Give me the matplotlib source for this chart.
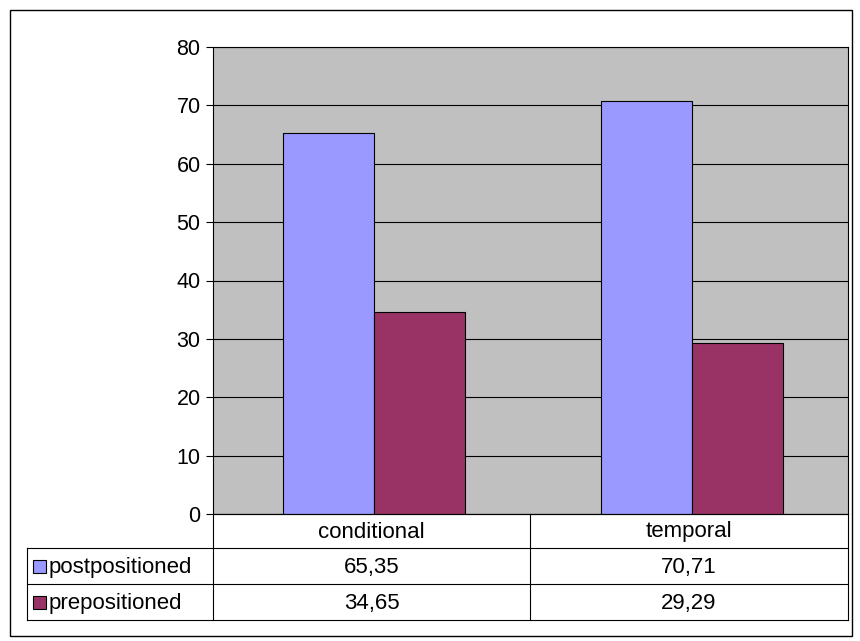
import matplotlib.pyplot as plt
from matplotlib.patches import Rectangle

plt.rcParams['font.family'] = ['Liberation Sans', 'DejaVu Sans']

categories = ["conditional", "temporal"]
series_names = ["postpositioned", "prepositioned"]
post_vals = [65.35, 70.71]
pre_vals = [34.65, 29.29]
colors = ["#9999FF", "#993366"]

W, H = 860, 641
fig = plt.figure(figsize=(W / 100, H / 100), dpi=100)

def fx(px):
    return px / W

def fy(py):
    return 1 - py / H

# outer border
fig.patches.append(Rectangle((fx(10), fy(636)), fx(842), 626 / H, transform=fig.transFigure,
                             fill=False, edgecolor="black", lw=1))

ax = fig.add_axes([fx(213), fy(514), fx(848 - 213), (514 - 47) / H])
ax.set_facecolor("#C0C0C0")
ax.set_ylim(0, 80)
ax.set_xlim(-0.5, len(categories) - 0.5)
ax.set_yticks(range(0, 81, 10))
ax.yaxis.grid(True, color="black", lw=0.8)
ax.set_axisbelow(True)
ax.set_xticks([])
ax.tick_params(axis="y", labelsize=15.5, length=5, direction="out", pad=4)
for s in ax.spines.values():
    s.set_color("black")
    s.set_linewidth(0.8)

w = 0.287
xs = range(len(categories))
ax.bar([x - w / 2 + 0.008 for x in xs], post_vals, w, color=colors[0], edgecolor="black", lw=0.8, zorder=3)
ax.bar([x + w / 2 + 0.008 for x in xs], pre_vals, w, color=colors[1], edgecolor="black", lw=0.8, zorder=3)

# data table
rows_y = [514, 548, 584, 620]
cols_x = [27, 213, 530, 848]
L = lambda x0, y0, x1, y1: fig.add_artist(plt.Line2D([fx(x0), fx(x1)], [fy(y0), fy(y1)],
                                                      transform=fig.transFigure, color="black", lw=0.8))
L(213, 514, 848, 514)
for y in rows_y[1:]:
    L(27, y, 848, y)
L(27, 548, 27, 620)
L(213, 514, 213, 620)
L(530, 514, 530, 620)
L(848, 514, 848, 620)

fs = 16
for i, c in enumerate(categories):
    fig.text(fx((cols_x[i + 1] + cols_x[i + 2]) / 2), fy(532), c, ha="center", va="center", fontsize=fs)

for r, (name, vals) in enumerate(zip(series_names, [post_vals, pre_vals])):
    yc = (rows_y[r + 1] + rows_y[r + 2]) / 2
    fig.patches.append(Rectangle((fx(33), fy(yc + 7)), 13 / W, 13 / H, transform=fig.transFigure,
                                 facecolor=colors[r], edgecolor="black", lw=0.8))
    fig.text(fx(49), fy(yc + 1), name, ha="left", va="center", fontsize=fs)
    for i, v in enumerate(vals):
        fig.text(fx((cols_x[i + 1] + cols_x[i + 2]) / 2), fy(yc + 1), f"{v:.2f}".replace(".", ","),
                 ha="center", va="center", fontsize=fs)

fig.savefig("out.png", dpi=100)
